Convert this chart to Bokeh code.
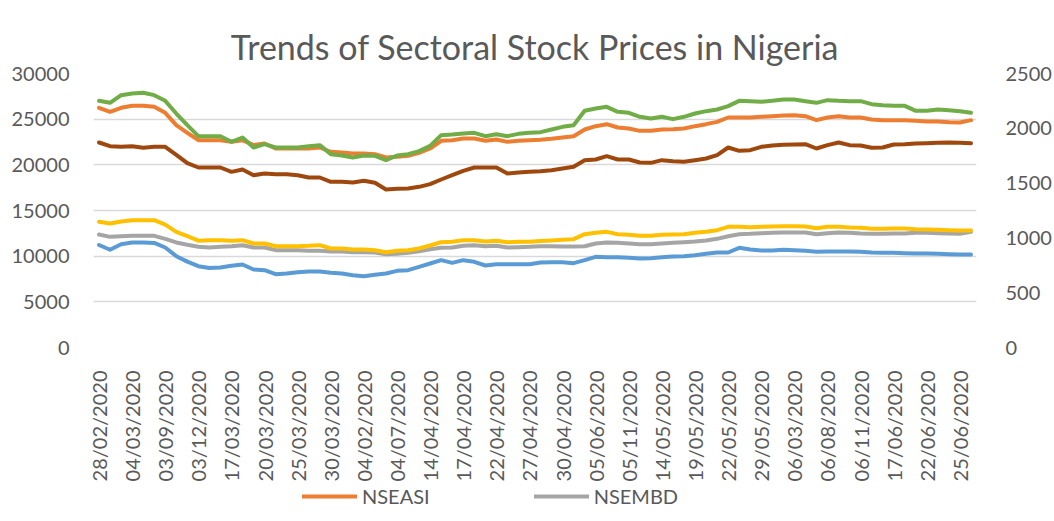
from bokeh.plotting import figure
from bokeh.models import (Range1d, LinearAxis, FixedTicker, Legend, LegendItem)
from bokeh.layouts import column
from bokeh.embed import file_html
from bokeh.resources import INLINE

# ---------------- data ----------------
tick_labels = ["28/02/2020", "04/03/2020", "03/09/2020", "03/12/2020", "17/03/2020",
               "20/03/2020", "25/03/2020", "30/03/2020", "04/02/2020", "04/07/2020",
               "14/04/2020", "17/04/2020", "22/04/2020", "27/04/2020", "30/04/2020",
               "05/06/2020", "05/11/2020", "14/05/2020", "19/05/2020", "22/05/2020",
               "29/05/2020", "06/03/2020", "06/08/2020", "06/11/2020", "17/06/2020",
               "22/06/2020", "25/06/2020"]

blue = [11220, 10700, 11312, 11500, 11500, 11450, 10950, 10000, 9400, 8900,
        8700, 8770, 8950, 9086, 8538, 8465, 8027, 8100, 8246, 8319,
        8319, 8173, 8100, 7918, 7808, 7954, 8100, 8392, 8465, 8830,
        9196, 9561, 9269, 9561, 9378, 8977, 9123, 9123, 9123, 9123,
        9306, 9342, 9342, 9233, 9561, 9926, 9890, 9890, 9816, 9743,
        9780, 9890, 9963, 9999, 10108, 10254, 10400, 10400, 10911, 10728,
        10619, 10619, 10692, 10655, 10582, 10473, 10509, 10509, 10509, 10473,
        10400, 10363, 10363, 10327, 10290, 10290, 10254, 10217, 10181, 10181]

nseasi = [26241, 25803, 26241, 26460, 26460, 26350, 25693, 24343, 23504, 22700,
          22700, 22700, 22518, 22700, 22153, 22335, 21788, 21788, 21788, 21788,
          21898, 21423, 21350, 21240, 21240, 21168, 20803, 20876, 20985, 21314,
          21788, 22628, 22700, 22883, 22883, 22628, 22774, 22518, 22628, 22700,
          22750, 22846, 22994, 23139, 23869, 24234, 24453, 24088, 23978, 23722,
          23722, 23869, 23905, 23978, 24234, 24453, 24708, 25183, 25183, 25183,
          25256, 25329, 25402, 25438, 25329, 24891, 25183, 25329, 25183, 25183,
          24964, 24891, 24891, 24891, 24818, 24745, 24745, 24672, 24636, 24891]

nsembd = [12371, 12115, 12188, 12225, 12225, 12225, 11900, 11500, 11250, 11030,
          10960, 11020, 11093, 11203, 10947, 10947, 10656, 10656, 10656, 10582,
          10582, 10509, 10509, 10436, 10436, 10400, 10217, 10254, 10363, 10546,
          10765, 10911, 10947, 11130, 11203, 11093, 11130, 10947, 10984, 11020,
          11093, 11093, 11057, 11057, 11093, 11385, 11495, 11458, 11385, 11312,
          11312, 11385, 11458, 11531, 11604, 11714, 11896, 12188, 12408, 12444,
          12517, 12554, 12590, 12590, 12590, 12408, 12517, 12590, 12554, 12481,
          12444, 12444, 12481, 12481, 12554, 12554, 12517, 12481, 12444, 12663]

yellow = [13758, 13575, 13794, 13940, 13940, 13940, 13450, 12660, 12190, 11700,
          11750, 11750, 11677, 11750, 11385, 11385, 11093, 11093, 11093, 11130,
          11203, 10838, 10838, 10728, 10728, 10656, 10436, 10582, 10656, 10838,
          11166, 11531, 11568, 11750, 11750, 11604, 11677, 11531, 11568, 11568,
          11660, 11714, 11787, 11860, 12408, 12554, 12663, 12408, 12335, 12225,
          12225, 12335, 12372, 12408, 12554, 12663, 12846, 13211, 13211, 13174,
          13211, 13247, 13284, 13284, 13247, 13065, 13211, 13211, 13138, 13101,
          12992, 12992, 13028, 13028, 12955, 12919, 12882, 12846, 12809, 12809]

green = [27008, 26789, 27628, 27810, 27884, 27628, 27008, 25620, 24343, 23139,
         23139, 23139, 22518, 22993, 21898, 22263, 21898, 21898, 21898, 22044,
         22153, 21168, 21022, 20803, 21022, 20985, 20510, 21022, 21168, 21496,
         22080, 23248, 23321, 23430, 23504, 23139, 23358, 23139, 23394, 23504,
         23580, 23869, 24160, 24343, 25913, 26168, 26351, 25803, 25694, 25256,
         25073, 25256, 25000, 25256, 25621, 25876, 26058, 26424, 27007, 26971,
         26898, 27007, 27153, 27153, 26971, 26788, 27080, 27007, 26971, 26971,
         26642, 26533, 26460, 26460, 25913, 25913, 26058, 25985, 25876, 25694]

brown = [22445, 22044, 21971, 22044, 21861, 21971, 21971, 21100, 20180, 19707,
         19707, 19707, 19233, 19488, 18868, 19050, 18977, 18977, 18868, 18613,
         18613, 18138, 18138, 18065, 18248, 18029, 17299, 17372, 17408, 17591,
         17883, 18394, 18868, 19342, 19707, 19707, 19707, 19050, 19160, 19233,
         19306, 19415, 19598, 19781, 20511, 20584, 20948, 20584, 20584, 20255,
         20219, 20511, 20401, 20328, 20511, 20693, 21058, 21898, 21533, 21606,
         21971, 22117, 22190, 22226, 22263, 21788, 22153, 22445, 22153, 22117,
         21862, 21898, 22226, 22263, 22335, 22372, 22408, 22445, 22408, 22372]

legend_names = ["NSEASI", "NSEMBD"]

x = list(range(len(nseasi)))
tick_step = 3

# ---------------- main figure ----------------
FONT = "Lato"
TXT = "#595959"
C_BLUE, C_ORANGE, C_GRAY = "#5B9BD5", "#ED7D31", "#A5A5A5"
C_YELLOW, C_GREEN, C_BROWN = "#FFC000", "#70AD47", "#9E480E"

p = figure(width=1054, height=484, output_backend="svg", toolbar_location=None,
           x_range=Range1d(-0.5, len(x) - 0.5), y_range=Range1d(0, 30000),
           min_border_left=93, min_border_right=71, min_border_top=73,
           min_border_bottom=137)
p.extra_y_ranges = {"right": Range1d(0, 2500)}
p.outline_line_color = None
p.background_fill_color = "white"
p.border_fill_color = "white"

p.title.text = "Trends of Sectoral Stock Prices in Nigeria"
p.title.align = "center"
p.title.text_font = FONT
p.title.text_font_size = "34px"
p.title.text_font_style = "normal"
p.title.text_color = TXT
p.title.standoff = 14

p.xaxis.ticker = FixedTicker(ticks=x[::tick_step])
p.xaxis.major_label_overrides = {i: lab for i, lab in zip(x[::tick_step], tick_labels)}
p.xaxis.major_label_orientation = 3.14159265 / 2

p.yaxis.ticker = FixedTicker(ticks=[0, 5000, 10000, 15000, 20000, 25000, 30000])
right = LinearAxis(y_range_name="right",
                   ticker=FixedTicker(ticks=[0, 500, 1000, 1500, 2000, 2500]))
p.add_layout(right, "right")

for ax in [p.xaxis[0], p.yaxis[0], right]:
    ax.axis_line_color = None
    ax.major_tick_line_color = None
    ax.minor_tick_line_color = None
    ax.major_label_text_font = FONT
    ax.major_label_text_font_size = "20px"
    ax.major_label_text_color = TXT
p.xaxis.major_label_standoff = 17
p.yaxis[0].major_label_standoff = 18
right.major_label_standoff = 23

p.xgrid.grid_line_color = None
p.ygrid.grid_line_color = "#D9D9D9"
p.ygrid.grid_line_width = 1.5

lw = 4
style = dict(line_width=lw, line_join="round", line_cap="round")
p.line(x, blue, line_color=C_BLUE, **style)
p.line(x, nseasi, line_color=C_ORANGE, **style)
p.line(x, nsembd, line_color=C_GRAY, **style)
p.line(x, yellow, line_color=C_YELLOW, **style)
p.line(x, green, line_color=C_GREEN, **style)
p.line(x, brown, line_color=C_BROWN, **style)

# ---------------- legend strip ----------------
p2 = figure(width=1054, height=37, output_backend="svg", toolbar_location=None,
            x_axis_type=None, y_axis_type=None,
            x_range=Range1d(0, 1), y_range=Range1d(0, 1),
            min_border_left=0, min_border_right=0, min_border_top=0,
            min_border_bottom=0)
p2.outline_line_color = None
p2.grid.grid_line_color = None
p2.border_fill_color = "white"
nan = float("nan")
k_asi = p2.line([nan, nan], [nan, nan], line_color=C_ORANGE, **style)
k_mbd = p2.line([nan, nan], [nan, nan], line_color=C_GRAY, **style)
legend = Legend(items=[LegendItem(label=legend_names[0], renderers=[k_asi]),
                       LegendItem(label=legend_names[1], renderers=[k_mbd])],
                orientation="horizontal", location=(209, 13),
                label_text_font=FONT, label_text_font_size="20px",
                label_text_color=TXT, glyph_width=55, glyph_height=20,
                label_standoff=5, spacing=104, padding=0, margin=0,
                border_line_color=None, background_fill_alpha=0)
p2.add_layout(legend, "center")

open("out.html", "w").write(file_html(column(p, p2, spacing=0), INLINE))
